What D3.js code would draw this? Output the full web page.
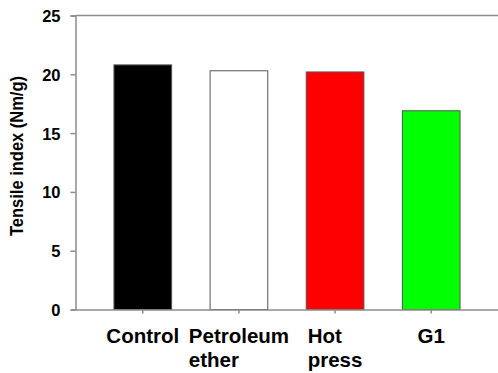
<!DOCTYPE html>
<html>
<head>
<meta charset="utf-8">
<script src="https://cdn.jsdelivr.net/npm/d3@7"></script>
<style>
  html, body { margin: 0; padding: 0; background: #fff; }
  svg { display: block; }
  text { font-family: "Liberation Sans", Arial, sans-serif; font-weight: bold; fill: #000; }
</style>
</head>
<body>
<svg id="chart" width="498" height="373"></svg>
<script>
// Tensile index by treatment
const categories = ["Control", "Petroleum ether", "Hot press", "G1"];
const labelLines = [["Control"], ["Petroleum", "ether"], ["Hot", "press"], ["G1"]];
const tensileIndex = [20.8, 20.3, 20.2, 16.9];
const barColors = ["#000000", "#ffffff", "#ff0000", "#00ff00"];
const yTicks = [0, 5, 10, 15, 20, 25];

const svg = d3.select("#chart");
const plotLeft = 75.5, plotRight = 498.5, plotTop = 15.5, plotBottom = 309.5;
const axisColor = "#8c8c8c";

const x = d3.scaleBand().domain(categories).range([plotLeft, plotRight])
  .paddingInner(0.4).paddingOuter(0.4);
const y = d3.scaleLinear().domain([0, 25]).range([plotBottom, plotTop]);

// bars
svg.append("g").selectAll("rect").data(categories).join("rect")
  .attr("x", d => x(d))
  .attr("y", (d, i) => y(tensileIndex[i]))
  .attr("width", x.bandwidth())
  .attr("height", (d, i) => y(0) - y(tensileIndex[i]))
  .attr("fill", (d, i) => barColors[i])
  .attr("stroke", "#555")
  .attr("stroke-width", 1);

// top frame line
svg.append("line")
  .attr("x1", plotLeft).attr("x2", plotRight)
  .attr("y1", plotTop).attr("y2", plotTop)
  .attr("stroke", axisColor).attr("stroke-width", 1.5);

// y axis
const yAxis = svg.append("g")
  .attr("transform", `translate(${plotLeft},0)`)
  .call(d3.axisLeft(y).tickValues(yTicks).tickSize(5).tickPadding(10).tickFormat(d3.format("d")));
yAxis.select(".domain").attr("stroke", axisColor).attr("stroke-width", 1.5);
yAxis.selectAll(".tick line").attr("stroke", axisColor).attr("stroke-width", 1.5);
yAxis.selectAll("text").style("font-size", "16.5px").attr("dy", "0.36em");

// x axis
const xAxis = svg.append("g")
  .attr("transform", `translate(0,${plotBottom})`)
  .call(d3.axisBottom(x).tickSize(4).tickSizeOuter(0).tickFormat(""));
xAxis.select(".domain").attr("stroke", axisColor).attr("stroke-width", 1.5);
xAxis.selectAll(".tick line").attr("stroke", axisColor).attr("stroke-width", 1.5);

// category labels: lines left-aligned, block centred on the tick
const labelG = svg.append("g");
categories.forEach((c, i) => {
  const g = labelG.append("g");
  const t = g.append("text").style("font-size", "20.5px");
  labelLines[i].forEach((line, j) => {
    t.append("tspan").attr("x", 0).attr("y", 342.5 + j * 24).text(line);
  });
  const w = t.node().getBBox().width;
  g.attr("transform", `translate(${x(c) + x.bandwidth() / 2 - w / 2},0)`);
});

// y axis title
svg.append("text")
  .attr("transform", `translate(23,156) rotate(-90) scale(1,1.15)`)
  .attr("text-anchor", "middle")
  .style("font-size", "16.5px")
  .text("Tensile index (Nm/g)");
</script>
</body>
</html>
